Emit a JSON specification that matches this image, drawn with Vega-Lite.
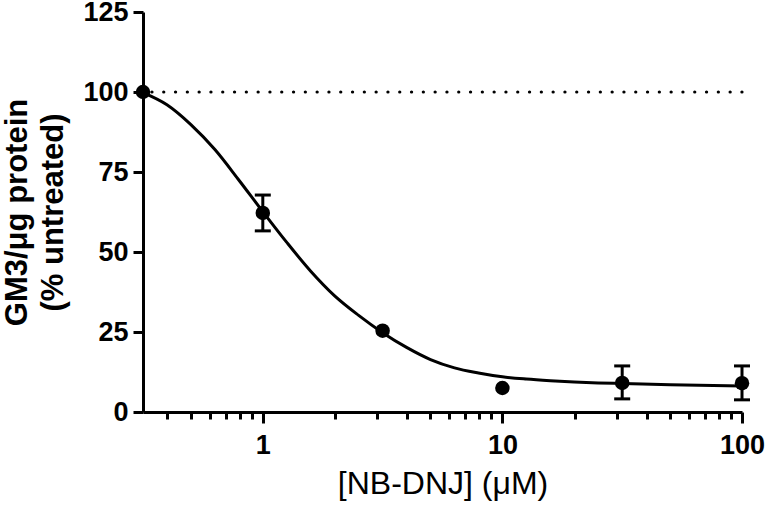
{
  "$schema": "https://vega.github.io/schema/vega-lite/v6.json",
  "width": 599,
  "height": 400,
  "autosize": {"type": "none"},
  "padding": {"left": 143, "top": 12, "right": 26, "bottom": 97},
  "background": "white",
  "config": {
    "view": {"stroke": null},
    "axis": {
      "grid": false,
      "domainColor": "black",
      "domainWidth": 3,
      "tickColor": "black",
      "tickWidth": 3,
      "labelColor": "black",
      "labelFont": "Liberation Sans",
      "labelFontWeight": "bold",
      "labelFontSize": 27,
      "titleColor": "black",
      "titleFont": "Liberation Sans"
    }
  },
  "datasets": {
    "points": [
      {"conc": 0.31623, "value": 100},
      {"conc": 1, "value": 62.2},
      {"conc": 3.1623, "value": 25.4},
      {"conc": 10, "value": 7.5},
      {"conc": 31.623, "value": 9.1},
      {"conc": 100, "value": 9.0}
    ],
    "errors": [
      {"conc": 1, "lo": 56.6, "hi": 67.8},
      {"conc": 31.623, "lo": 4.1, "hi": 14.4},
      {"conc": 100, "lo": 3.8, "hi": 14.4}
    ],
    "curve": [
      {"conc": 0.31623, "fit": 99.8},
      {"conc": 0.398, "fit": 96.0},
      {"conc": 0.501, "fit": 89.8},
      {"conc": 0.631, "fit": 82.0},
      {"conc": 0.794, "fit": 72.5},
      {"conc": 1.0, "fit": 62.6},
      {"conc": 1.259, "fit": 53.0},
      {"conc": 1.585, "fit": 44.0},
      {"conc": 1.995, "fit": 36.3},
      {"conc": 2.512, "fit": 30.2},
      {"conc": 3.162, "fit": 24.8},
      {"conc": 3.981, "fit": 20.2},
      {"conc": 5.012, "fit": 16.4},
      {"conc": 6.31, "fit": 13.8},
      {"conc": 7.943, "fit": 12.2},
      {"conc": 10, "fit": 11.0},
      {"conc": 12.59, "fit": 10.3},
      {"conc": 15.85, "fit": 9.8},
      {"conc": 19.95, "fit": 9.4},
      {"conc": 25.12, "fit": 9.1},
      {"conc": 31.62, "fit": 8.9},
      {"conc": 50.12, "fit": 8.5},
      {"conc": 100, "fit": 8.1}
    ]
  },
  "layer": [
    {
      "data": {"values": [{"ref": 100}]},
      "mark": {"type": "rule", "color": "black", "strokeWidth": 3.2, "strokeCap": "round", "strokeDash": [0.1, 11.7]},
      "encoding": {"y": {"field": "ref", "type": "quantitative"}}
    },
    {
      "data": {"name": "curve"},
      "mark": {"type": "line", "color": "black", "strokeWidth": 3, "interpolate": "monotone"},
      "encoding": {
        "x": {
          "field": "conc",
          "type": "quantitative",
          "scale": {"type": "log", "domain": [0.31623, 100], "nice": false},
          "axis": {
            "values": [0.4, 0.5, 0.6, 0.7, 0.8, 0.9, 1, 2, 3, 4, 5, 6, 7, 8, 9, 10, 20, 30, 40, 50, 60, 70, 80, 90, 100],
            "labelExpr": "(datum.value == 1 || datum.value == 10 || datum.value == 100) ? format(datum.value, 'd') : ''",
            "labelOverlap": false,
            "labelFlush": false,
            "labelPadding": 9,
            "tickSize": {"condition": {"test": "datum.value == 1 || datum.value == 10 || datum.value == 100", "value": 11}, "value": 7},
            "title": "[NB-DNJ] (μM)",
            "titleFontWeight": "normal",
            "titleFontSize": 32,
            "titlePadding": 10
          }
        },
        "y": {
          "field": "fit",
          "type": "quantitative",
          "scale": {"domain": [0, 125], "nice": false},
          "axis": {
            "values": [0, 25, 50, 75, 100, 125],
            "tickSize": 10,
            "labelPadding": 5,
            "title": ["GM3/μg protein", "(% untreated)"],
            "titleFontWeight": "bold",
            "titleFontSize": 31,
            "titleLineHeight": 36,
            "titlePadding": 13
          }
        }
      }
    },
    {
      "data": {"name": "errors"},
      "mark": {"type": "rule", "color": "black", "strokeWidth": 3},
      "encoding": {
        "x": {"field": "conc", "type": "quantitative"},
        "y": {"field": "lo", "type": "quantitative"},
        "y2": {"field": "hi"}
      }
    },
    {
      "data": {"name": "errors"},
      "mark": {"type": "tick", "orient": "horizontal", "color": "black", "size": 16, "thickness": 3, "opacity": 1},
      "encoding": {
        "x": {"field": "conc", "type": "quantitative"},
        "y": {"field": "lo", "type": "quantitative"}
      }
    },
    {
      "data": {"name": "errors"},
      "mark": {"type": "tick", "orient": "horizontal", "color": "black", "size": 16, "thickness": 3, "opacity": 1},
      "encoding": {
        "x": {"field": "conc", "type": "quantitative"},
        "y": {"field": "hi", "type": "quantitative"}
      }
    },
    {
      "data": {"name": "points"},
      "mark": {"type": "circle", "color": "black", "size": 210, "opacity": 1},
      "encoding": {
        "x": {"field": "conc", "type": "quantitative"},
        "y": {"field": "value", "type": "quantitative"}
      }
    }
  ]
}
